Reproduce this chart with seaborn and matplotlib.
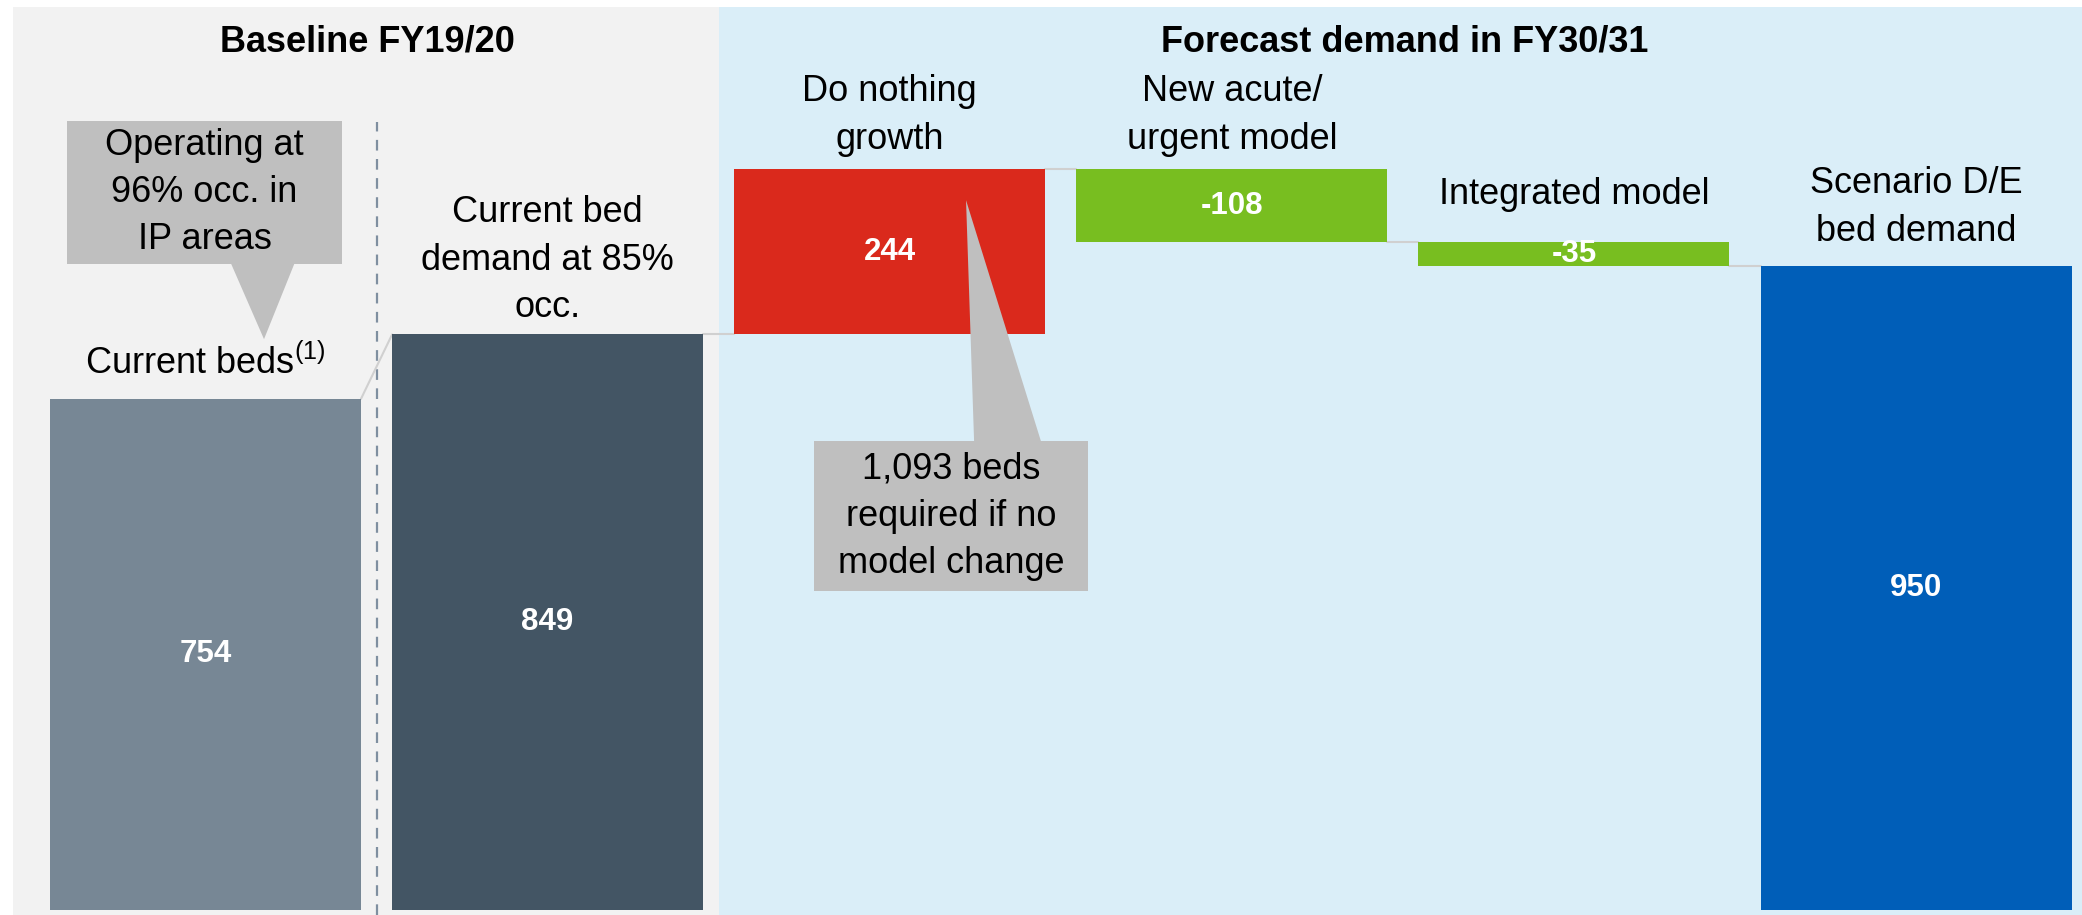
import numpy as np
import pandas as pd
import matplotlib
matplotlib.use('Agg')
import matplotlib.pyplot as plt
import seaborn as sns
from matplotlib.patches import Rectangle, Polygon

# Datos del waterfall
steps = ["Current beds", "Current bed demand", "Do nothing growth",
         "New acute/urgent model", "Integrated model", "Scenario D/E bed demand"]
step_labels = ["Current beds$^{\\mathrm{(1)}}$", "Current bed\ndemand at 85%\nocc.",
               "Do nothing\ngrowth", "New acute/\nurgent model", "Integrated model",
               "Scenario D/E\nbed demand"]
values = [754, 849, 244, -108, -35, 950]
kinds = ["total", "total", "delta", "delta", "delta", "total"]
bar_colors = ["#778795", "#435564", "#DA291C", "#78BE20", "#78BE20", "#005EB8"]
label_offsets = [12.5, 7, 9, 9, 22, 12.5]  # pts above the bar top

sections = ["Baseline FY19/20", "Forecast demand in FY30/31"]
note_left = "Operating at\n96% occ. in\nIP areas"
note_right = "1,093 beds\nrequired if no\nmodel change"

# bases of the floating bars
bottoms = []
running = 0
for v, k in zip(values, kinds):
    if k == "total":
        bottoms.append(0)
        running = v
    else:
        bottoms.append(running)
        running += v

df = pd.DataFrame({"step": steps, "value": values, "bottom": bottoms})

sns.set_theme(style="white")
plt.rcParams['font.family'] = ['Liberation Sans', 'DejaVu Sans']
plt.rcParams['mathtext.fontset'] = 'custom'
plt.rcParams['mathtext.rm'] = 'Liberation Sans'
plt.rcParams['text.color'] = 'black'

fig = plt.figure(figsize=(20.82, 9.15), dpi=100)
fig.patch.set_facecolor("white")
ax = fig.add_axes([0, 0, 1, 908 / 915])

# paneles de fondo
ax.axvspan(-0.563, 1.5, color="#F2F2F2", zorder=0, lw=0)
ax.axvspan(1.5, 6, color="#DAEEF8", zorder=0, lw=0)

width = 0.909
sns.barplot(data=df, x="step", y="value", order=steps, bottom=df["bottom"].values,
            width=width, color="gray", errorbar=None, ax=ax, zorder=2, linewidth=0)
bars = ax.containers[0]
for p, c in zip(bars.patches, bar_colors):
    p.set_facecolor(c)
    p.set_edgecolor(c)

ax.set_xlim(-0.6007, 5.485)
ax.set_ylim(-7.4, 1332)
ax.axis("off")

# separador punteado
ax.axvline(0.5, ymin=0, ymax=(915 - 122) / 908, color="#7F8FA0", lw=1.6,
           dashes=(4.8, 3.8), zorder=1)

# conectores
for i in range(len(values) - 1):
    y0 = bottoms[i] + values[i]
    y1 = bottoms[i + 1] if kinds[i + 1] == "delta" else values[i + 1]
    ax.plot([i + width / 2, i + 1 - width / 2], [y0, y1], color="#D0D0D0", lw=1.5, zorder=1)

# valores y etiquetas
for i, (v, b) in enumerate(zip(values, bottoms)):
    ax.text(i, b + v / 2, f"{v:,}", ha="center", va="center", color="white",
            fontsize=22.5, fontweight="bold", zorder=4)
    top = max(b, b + v)
    ax.annotate(step_labels[i], xy=(i, top), xytext=(0, label_offsets[i]),
                textcoords="offset points", ha="center", va="bottom",
                fontsize=26, linespacing=1.45, color="black", zorder=4)

# callouts
def callout(box_x, box_y, base_x, base_y, tip, text):
    ax.add_patch(Rectangle((box_x[0], box_y[0]), box_x[1] - box_x[0], box_y[1] - box_y[0],
                           facecolor="#BFBFBF", edgecolor="none", zorder=5))
    ax.add_patch(Polygon([(base_x[0], base_y), (base_x[1], base_y), tip],
                         facecolor="#BFBFBF", edgecolor="none", zorder=5))
    ax.text((box_x[0] + box_x[1]) / 2, (box_y[0] + box_y[1]) / 2, text, ha="center",
            va="center", fontsize=26, linespacing=1.45, color="black", zorder=6)

callout((-0.405, 0.399), (953, 1164), (0.069, 0.265), 960, (0.171, 842), note_left)
callout((1.779, 2.580), (470, 692), (2.247, 2.446), 685, (2.223, 1047), note_right)

# titulos de seccion
fig.text(367 / 2082, 1 - 52 / 915, sections[0], ha="center", va="baseline",
         fontsize=26, fontweight="bold", color="black")
fig.text(1405 / 2082, 1 - 52 / 915, sections[1], ha="center", va="baseline",
         fontsize=26, fontweight="bold", color="black")

fig.savefig("out.png", dpi=100, facecolor="white")
plt.close(fig)
